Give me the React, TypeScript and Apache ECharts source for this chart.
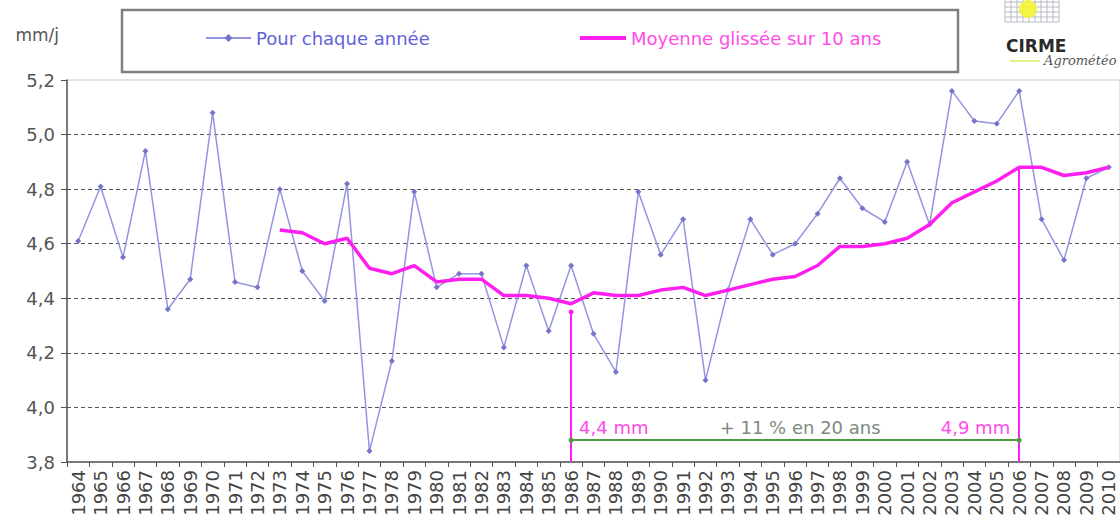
import React, { useEffect, useRef } from "react";
import * as echarts from "echarts";

const years = [
  "1964", "1965", "1966", "1967", "1968", "1969", "1970", "1971", "1972", "1973",
  "1974", "1975", "1976", "1977", "1978", "1979", "1980", "1981", "1982", "1983",
  "1984", "1985", "1986", "1987", "1988", "1989", "1990", "1991", "1992", "1993",
  "1994", "1995", "1996", "1997", "1998", "1999", "2000", "2001", "2002", "2003",
  "2004", "2005", "2006", "2007", "2008", "2009", "2010",
];

const annual = [
  4.61, 4.81, 4.55, 4.94, 4.36, 4.47, 5.08, 4.46, 4.44, 4.80,
  4.50, 4.39, 4.82, 3.84, 4.17, 4.79, 4.44, 4.49, 4.49, 4.22,
  4.52, 4.28, 4.52, 4.27, 4.13, 4.79, 4.56, 4.69, 4.10, 4.43,
  4.69, 4.56, 4.60, 4.71, 4.84, 4.73, 4.68, 4.90, 4.67, 5.16,
  5.05, 5.04, 5.16, 4.69, 4.54, 4.84, 4.88,
];

const movingAvg = [
  null, null, null, null, null, null, null, null, null, 4.65,
  4.64, 4.60, 4.62, 4.51, 4.49, 4.52, 4.46, 4.47, 4.47, 4.41,
  4.41, 4.40, 4.38, 4.42, 4.41, 4.41, 4.43, 4.44, 4.41, 4.43,
  4.45, 4.47, 4.48, 4.52, 4.59, 4.59, 4.60, 4.62, 4.67, 4.75,
  4.79, 4.83, 4.88, 4.88, 4.85, 4.86, 4.88,
];

const yTicks = { min: 3.8, max: 5.2, interval: 0.2 };

const startYear = "1986";
const endYear = "2006";
const startMarkTop = 4.35;
const endMarkTop = 4.88;
const arrowLevel = 3.88;
const textLevel = 3.925;
const labelStart = "4,4 mm";
const labelEnd = "4,9 mm";
const labelMid = "+ 11 % en 20 ans";
const midYear = "1996";

const FONT = "DejaVu Sans";

export default function App() {
  const ref = useRef<HTMLDivElement>(null);

  useEffect(() => {
    if (!ref.current) return;
    const chart = echarts.init(ref.current, undefined, { renderer: "svg" });

    const gridLines: any[] = [];
    for (let i = 0; i < 10; i++) {
      gridLines.push({
        type: "line",
        shape: { x1: 1005 + i * 6, y1: 0, x2: 1005 + i * 6, y2: 22 },
        style: { stroke: "#b8b8c8", lineWidth: 1 },
      });
    }
    for (let j = 0; j < 5; j++) {
      gridLines.push({
        type: "line",
        shape: { x1: 1005, y1: 2 + j * 5, x2: 1059, y2: 2 + j * 5 },
        style: { stroke: "#b8b8c8", lineWidth: 1 },
      });
    }

    chart.setOption({
      animation: false,
      backgroundColor: "#ffffff",
      textStyle: { fontFamily: FONT },
      grid: {
        left: 67,
        top: 80,
        width: 1055,
        height: 382,
        show: true,
        borderColor: "#c8c8c8",
        borderWidth: 1,
        containLabel: false,
      },
      legend: [
        {
          data: ["Pour chaque année"],
          left: 200,
          top: 24,
          itemWidth: 45,
          itemHeight: 10,
          itemGap: 4,
          selectedMode: false,
          textStyle: { color: "#6262d8", fontSize: 18, fontFamily: FONT },
        },
        {
          data: [{ name: "Moyenne glissée sur 10 ans", icon: "rect" }],
          left: 575,
          top: 24,
          itemWidth: 46,
          itemHeight: 4,
          itemGap: 4,
          selectedMode: false,
          textStyle: { color: "#ff4ce8", fontSize: 18, fontFamily: FONT },
        },
      ],
      xAxis: {
        type: "category",
        data: years,
        boundaryGap: true,
        axisLine: { lineStyle: { color: "#555", width: 1.5 } },
        axisTick: { show: true, length: 5, lineStyle: { color: "#555" } },
        axisLabel: {
          rotate: 90,
          interval: 0,
          color: "#444",
          fontSize: 18,
          fontFamily: FONT,
          margin: 8,
        },
        splitLine: { show: false },
      },
      yAxis: {
        type: "value",
        min: yTicks.min,
        max: yTicks.max,
        interval: yTicks.interval,
        name: "mm/j",
        nameLocation: "end",
        nameGap: 45,
        nameTextStyle: {
          color: "#555",
          fontSize: 17,
          fontFamily: FONT,
          align: "right",
          verticalAlign: "middle",
          padding: [0, 8, 0, 0],
        },
        axisLine: { show: true, lineStyle: { color: "#555", width: 1.5 } },
        axisTick: { show: true, length: 6, lineStyle: { color: "#555" } },
        axisLabel: {
          color: "#555",
          fontSize: 18,
          fontFamily: FONT,
          margin: 12,
          formatter: (v: number) => v.toFixed(1).replace(".", ","),
        },
        splitLine: {
          show: true,
          showMaxLine: false,
          showMinLine: false,
          lineStyle: { color: "#555", type: [4, 3], width: 1 },
        },
      },
      series: [
        {
          name: "Pour chaque année",
          type: "line",
          data: annual,
          symbol: "diamond",
          symbolSize: 6,
          lineStyle: { color: "#9494e2", width: 1.5 },
          itemStyle: { color: "#7474c8" },
          z: 2,
        },
        {
          name: "Moyenne glissée sur 10 ans",
          type: "line",
          data: movingAvg,
          symbol: "none",
          connectNulls: false,
          lineStyle: { color: "#ff1ef0", width: 3.5 },
          itemStyle: { color: "#ff1ef0" },
          z: 3,
          markLine: {
            silent: true,
            animation: false,
            label: { show: false },
            data: [
              [
                {
                  coord: [startYear, startMarkTop],
                  symbol: "circle",
                  symbolSize: 5,
                  lineStyle: { color: "#ff1ef0", width: 2, type: "solid" },
                },
                { coord: [startYear, yTicks.min], symbol: "none" },
              ],
              [
                {
                  coord: [endYear, endMarkTop],
                  symbol: "none",
                  lineStyle: { color: "#ff1ef0", width: 2, type: "solid" },
                },
                { coord: [endYear, yTicks.min], symbol: "none" },
              ],
              [
                {
                  coord: [startYear, arrowLevel],
                  symbol: "circle",
                  symbolSize: 5,
                  lineStyle: { color: "#4f9a45", width: 2, type: "solid" },
                  itemStyle: { color: "#2f6a2a" },
                },
                {
                  coord: [endYear, arrowLevel],
                  symbol: "circle",
                  symbolSize: 5,
                  itemStyle: { color: "#2f6a2a" },
                },
              ],
            ],
          },
          markPoint: {
            silent: true,
            animation: false,
            symbolSize: 0,
            data: [
              {
                coord: [startYear, textLevel],
                symbolSize: 0,
                label: {
                  show: true,
                  formatter: labelStart,
                  position: "right",
                  distance: 8,
                  color: "#ff4ce8",
                  fontSize: 18,
                  fontFamily: FONT,
                },
              },
              {
                coord: [endYear, textLevel],
                symbolSize: 0,
                label: {
                  show: true,
                  formatter: labelEnd,
                  position: "left",
                  distance: 9,
                  color: "#ff4ce8",
                  fontSize: 18,
                  fontFamily: FONT,
                },
              },
              {
                coord: [midYear, textLevel],
                symbolSize: 0,
                label: {
                  show: true,
                  formatter: labelMid,
                  position: "inside",
                  offset: [5, 0],
                  color: "#7d8a7d",
                  fontSize: 18,
                  fontFamily: FONT,
                },
              },
            ],
          },
        },
      ],
      graphic: [
        {
          type: "rect",
          z: -1,
          shape: { x: 122, y: 10, width: 836, height: 62 },
          style: { fill: "#ffffff", stroke: "#808080", lineWidth: 2.5 },
        },
        {
          type: "group",
          children: [
            ...gridLines,
            {
              type: "circle",
              shape: { cx: 1028, cy: 9, r: 9 },
              style: { fill: "#f4f432", opacity: 0.9 },
            },
            {
              type: "text",
              x: 1006,
              y: 37,
              style: {
                text: "CIRME",
                font: "bold 17px " + FONT,
                fill: "#2a2a2a",
              },
            },
            {
              type: "line",
              shape: { x1: 1010, y1: 61, x2: 1040, y2: 61 },
              style: { stroke: "#e6ef8a", lineWidth: 2 },
            },
            {
              type: "text",
              x: 1044,
              y: 54,
              style: {
                text: "Agrométéo",
                font: "italic 13px 'DejaVu Serif'",
                fill: "#555",
              },
            },
          ],
        },
      ],
    });

    return () => {
      chart.dispose();
    };
  }, []);

  return (
    <div
      ref={ref}
      style={{ position: "fixed", left: 0, top: 0, width: 1120, height: 526 }}
    />
  );
}
